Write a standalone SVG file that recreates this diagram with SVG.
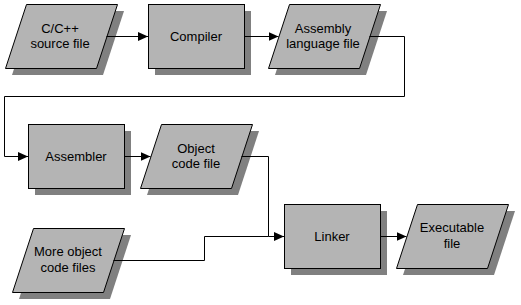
<svg xmlns="http://www.w3.org/2000/svg" width="521" height="305" viewBox="0 0 521 305">
<defs>
<style>
.sh{fill:#808080;stroke:none}
.bx{fill:#b4b4b4;stroke:#000;stroke-width:1}
.t{font-family:"Liberation Sans",Arial,sans-serif;font-size:13px;fill:#000;text-anchor:middle}
.c{fill:none;stroke:#000;stroke-width:1}
</style>
<marker id="ah" markerUnits="userSpaceOnUse" markerWidth="11" markerHeight="10" refX="10" refY="4.5" orient="auto">
<path d="M0,0 L10,4.5 L0,9 z" fill="#000"/>
</marker>
<path id="para" d="M21,0 H112 L91,64 H0 Z"/>
</defs>
<rect width="521" height="305" fill="#fff"/>

<g id="src">
<use href="#para" x="12" y="11" class="sh"/>
<use href="#para" x="5.5" y="4.5" class="bx"/>
<text class="t" x="60" y="32.5">C/C++</text>
<text class="t" x="60" y="47.5">source file</text>
</g>

<g id="compiler">
<rect class="sh" x="155" y="11" width="96" height="64"/>
<rect class="bx" x="148.5" y="4.5" width="96" height="64"/>
<text class="t" x="196" y="41">Compiler</text>
</g>

<g id="asmfile">
<use href="#para" x="275" y="11" class="sh"/>
<use href="#para" x="268.5" y="4.5" class="bx"/>
<text class="t" x="323" y="32.5">Assembly</text>
<text class="t" x="323" y="47.5">language file</text>
</g>

<g id="assembler">
<rect class="sh" x="35" y="131" width="96" height="64"/>
<rect class="bx" x="28.5" y="124.5" width="96" height="64"/>
<text class="t" x="76" y="161">Assembler</text>
</g>

<g id="objfile">
<use href="#para" x="147" y="131" class="sh"/>
<use href="#para" x="140.5" y="124.5" class="bx"/>
<text class="t" x="196" y="153">Object</text>
<text class="t" x="196" y="168">code file</text>
</g>

<g id="moreobj">
<use href="#para" x="19" y="235" class="sh"/>
<use href="#para" x="12.5" y="228.5" class="bx"/>
<text class="t" x="68" y="256">More object</text>
<text class="t" x="68" y="271.5">code files</text>
</g>

<g id="linker">
<rect class="sh" x="291" y="211" width="96" height="64"/>
<rect class="bx" x="284.5" y="204.5" width="96" height="64"/>
<text class="t" x="332" y="241">Linker</text>
</g>

<g id="exe">
<use href="#para" x="403" y="211" class="sh"/>
<use href="#para" x="396.5" y="204.5" class="bx"/>
<text class="t" x="452" y="232">Executable</text>
<text class="t" x="452" y="247.5">file</text>
</g>

<g id="connectors">
<path class="c" d="M106.5,36.5 H148" marker-end="url(#ah)"/>
<path class="c" d="M244.5,36.5 H278.5" marker-end="url(#ah)"/>
<path class="c" d="M369.5,36.5 H404.5 V96.5 H4.5 V156.5 H28" marker-end="url(#ah)"/>
<path class="c" d="M124.5,156.5 H150.5" marker-end="url(#ah)"/>
<path class="c" d="M241.5,156.5 H268.5 V236.5 H284" marker-end="url(#ah)"/>
<path class="c" d="M113.5,260.5 H204.5 V236.5 H268.5"/>
<path class="c" d="M380.5,236.5 H406.5" marker-end="url(#ah)"/>
</g>
</svg>
